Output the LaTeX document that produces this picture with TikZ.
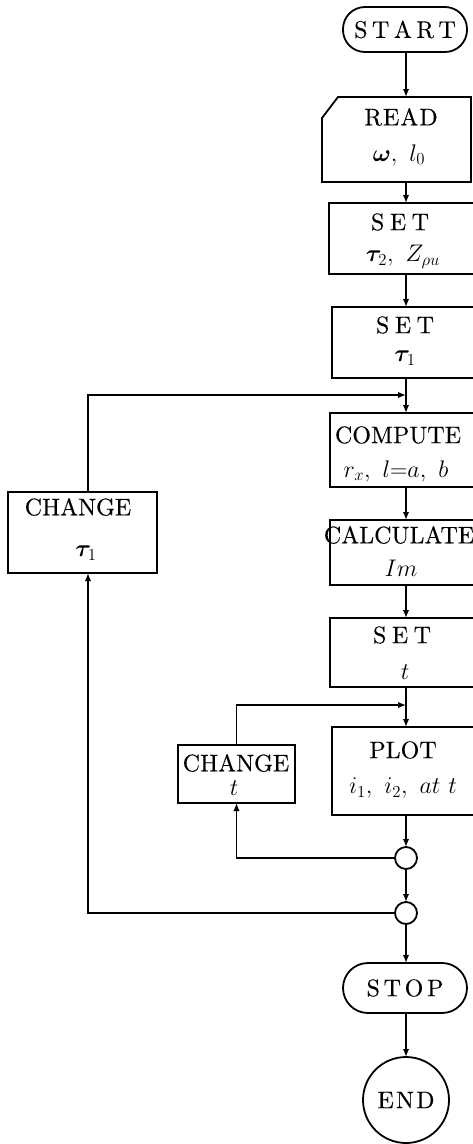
\RequirePackage{fix-cm}
\documentclass[tikz,border=0pt]{standalone}
\usepackage{fontspec}
\usepackage{bm}
\newfontfamily\heavy{lmroman10-regular.otf}[FakeBold=0.3]
\usetikzlibrary{arrows.meta,calc}
\begin{document}
\begin{tikzpicture}[x=1pt,y=-1pt,line width=1.8pt,
  every node/.style={font=\heavy\fontsize{24}{28}\selectfont, inner sep=0pt, outer sep=0pt},
  frame/.style={draw, line width=1.8pt, rectangle},
  term/.style={draw, line width=1.8pt, rectangle, rounded corners=#1},
  joint/.style={draw, line width=1.8pt, circle, minimum size=22pt},
  arr/.style={-{Latex[length=8pt,width=6.5pt]}}]
\useasboundingbox (0,0) rectangle (473,1144);
\clip (0,0) rectangle (473,1144);
\coordinate (mx) at (406,0);
\coordinate (lx) at (88,0);
\coordinate (j1) at (406,395);
\coordinate (j2) at (406,705);
% terminals
\node[term=22pt, minimum width=124pt, minimum height=45pt] (start) at (405,29.5) {S\kern4.5pt T\kern4.5pt A\kern4.5pt R\kern4.5pt T};
% READ (card shape)
\node[minimum width=149pt, minimum height=85pt] (read) at (396.5,139.5) {};
\draw[line width=1.8pt] ($(read.north west)+(16,0)$) -- (read.north east) -- (read.south east) -- (read.south west) -- ($(read.north west)+(0,21)$) -- cycle;
\node (readA) at (401,117) {R\kern1pt E\kern1pt A\kern1pt D};
\node (readB) at (399,155) {$\bm{\omega},\ l_0$};
% SET tau2
\node[frame, minimum width=154pt, minimum height=71pt] (set2) at (406,238.5) {};
\node (set2A) at (400,222) {S\kern5.5pt E\kern5.5pt T};
\node (set2B) at (403,257) {$\bm{\tau}_2,\ Z_{\rho u}$};
% SET tau1
\node[frame, minimum width=148pt, minimum height=71pt] (set1) at (406,342.5) {};
\node (set1A) at (405,325) {S\kern5.5pt E\kern5.5pt T};
\node (set1B) at (405,358) {$\bm{\tau}_1$};
% COMPUTE
\node[frame, minimum width=152pt, minimum height=74pt] (compute) at (406,450) {};
\node (computeA) at (398,435) {COMPUTE};
\node (computeB) at (396,471) {$r_x,\ l{=}a,\ b$};
% CALCULATE
\node[frame, minimum width=152pt, minimum height=65pt] (calc) at (406,552.5) {};
\node (calcA) at (399,535) {CALCULATE};
\node (calcB) at (401,568) {$Im$};
% SET t
\node[frame, minimum width=152pt, minimum height=69pt] (sett) at (406,652.5) {};
\node (settA) at (402,635) {S\kern5.5pt E\kern5.5pt T};
\node (settB) at (405,672) {$t$};
% PLOT
\node[frame, minimum width=148pt, minimum height=88pt] (plot) at (406,771) {};
\node (plotA) at (403,750) {PLOT};
\node (plotB) at (403,788) {$i_1,\ i_2,\ at\ t$};
% joints
\node[joint] (c1) at (406,858) {};
\node[joint] (c2) at (406,913) {};
% STOP / END
\node[term=25pt, minimum width=124pt, minimum height=50pt] (stop) at (405,988) {S\kern3.7pt T\kern3.7pt O\kern3.7pt P};
\node[draw, line width=1.8pt, circle, minimum size=86pt] (end) at (406,1100) {E\kern2.2pt N\kern2.2pt D};
% CHANGE tau1
\node[frame, minimum width=149pt, minimum height=81pt] (ch1) at (82.5,532.5) {};
\node (ch1A) at (78,507) {CHANGE};
\node (ch1B) at (86,553) {$\bm{\tau}_1$};
% CHANGE t
\node[frame, minimum width=117pt, minimum height=58pt] (cht) at (236.5,774) {};
\node (chtA) at (236,763) {CHANGE};
\node (chtB) at (234,788) {$t$};
% connectors
\draw[arr] (start.south -| mx) -- (read.north -| mx);
\draw[arr] (read.south -| mx) -- (set2.north);
\draw[arr] (set2.south) -- (set1.north);
\draw[arr] (set1.south) -- (compute.north);
\draw[arr] (compute.south) -- (calc.north);
\draw[arr] (calc.south) -- (sett.north);
\draw[arr] (sett.south) -- (plot.north);
\draw[arr] (plot.south) -- (c1.north);
\draw[arr] (c1.south) -- (c2.north);
\draw[arr] (c2.south) -- (stop.north -| mx);
\draw[arr] (stop.south -| mx) -- (end.north);
\draw[arr] (c1.west) -| (cht.south);
\draw[arr] (cht.north) |- (j2);
\draw[arr] (c2.west) -| (ch1.south -| lx);
\draw[arr] (ch1.north -| lx) |- (j1);
\end{tikzpicture}
\end{document}
